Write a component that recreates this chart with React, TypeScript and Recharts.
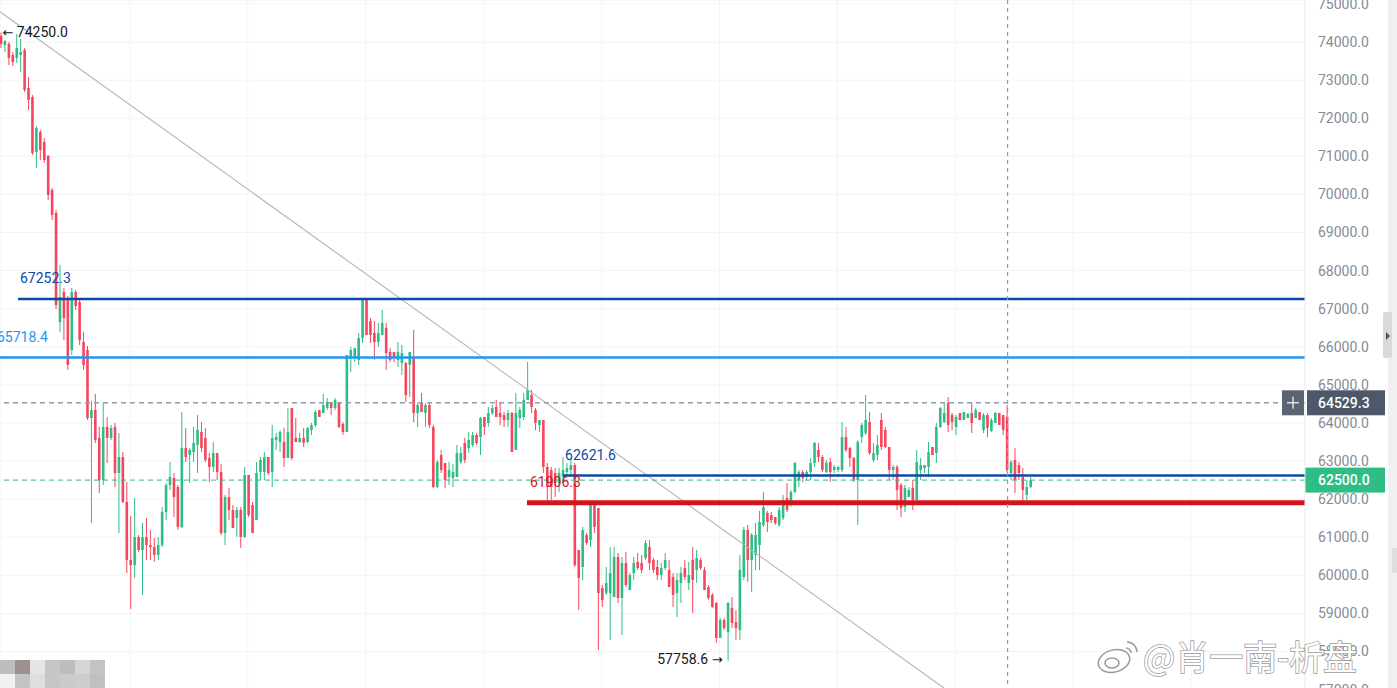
import React from 'react';
import {
  ComposedChart, Bar, XAxis, YAxis, CartesianGrid, ReferenceLine, ReferenceDot,
} from 'recharts';

// 263 candles, oldest first
const OPEN = [
  74157, 73921, 73947, 73659, 73580, 73659, 73790, 72793, 72556, 71112,
  71637, 71374, 71007, 70115, 69511, 66650, 67437, 67227, 65915, 67437,
  67175, 66125, 65915, 64130, 64340, 63605, 62502, 63894, 63605, 63894,
  62686, 63106, 61925, 60402, 60271, 61006, 60665, 61006, 60796, 60743,
  60534, 60796, 61662, 62371, 62555, 62318, 61269, 63342, 63159, 63237,
  63421, 63762, 63605, 63080, 62844, 63211, 62712, 61111, 62056, 61715,
  61505, 61715, 61006, 62634, 61846, 61452, 62712, 62712, 63106, 62712,
  63552, 63500, 63500, 63080, 64392, 63605, 63500, 63605, 63500, 63815,
  63946, 64340, 64261, 64392, 64550, 64392, 64550, 63973, 63762, 65705,
  65705, 65652, 66230, 67227, 66676, 66361, 66125, 66309, 66493, 65862,
  65862, 65652, 65574, 65574, 65521, 65705, 64261, 64524, 64261, 64471,
  63894, 62318, 63159, 62949, 62581, 62555, 62581, 62975, 63474, 63342,
  63421, 63684, 63631, 64156, 63999, 64261, 64419, 64261, 64209, 64077,
  64261, 63290, 64130, 64156, 64602, 64734, 64340, 63946, 64077, 62844,
  62765, 62686, 62424, 62581, 62712, 62765, 62896, 60665, 60219, 61059,
  60927, 61846, 61768, 59667, 59537, 59537, 59431, 60481, 59405, 60324,
  59615, 60061, 60350, 60324, 60455, 60743, 60402, 60219, 60009, 60192,
  60140, 59956, 59537, 59799, 60192, 59799, 60402, 60140, 60402, 60140,
  59694, 59484, 59274, 58355, 58827, 58512, 59143, 58775, 58565, 59956,
  61190, 60402, 60534, 60796, 61321, 61636, 61584, 61531, 61321, 61505,
  62030, 61899, 62187, 62502, 62712, 62581, 62712, 62949, 63290, 63106,
  62712, 62975, 62765, 62765, 62765, 63631, 63342, 63080, 62502, 63631,
  63736, 64024, 63027, 63159, 64077, 63815, 63369, 62765, 62844, 62371,
  61794, 62056, 62293, 61977, 62765, 62817, 62844, 63369, 63211, 63894,
  64024, 64524, 64209, 63894, 64261, 64077, 64130, 64261, 64130, 64287,
  63815, 64209, 63789, 63999, 64261, 64209, 64156, 62686, 63027, 62896,
  62581, 62109, 62318,
];

const HIGH = [
  74250, 74052, 74000, 73737, 74210, 74079, 73842, 73081, 72609, 71795,
  71690, 71480, 71034, 70167, 69590, 68146, 67542, 67332, 67542, 67490,
  67227, 66387, 66020, 64576, 64760, 63894, 64524, 64156, 63946, 63999,
  63736, 63237, 62450, 61557, 62030, 61059, 61374, 61505, 61190, 60980,
  61006, 61794, 62424, 62975, 62686, 62371, 64287, 63867, 63342, 63894,
  64209, 64024, 63867, 63211, 63500, 63211, 62923, 62109, 62293, 61846,
  61794, 61794, 62844, 62634, 61925, 62975, 63106, 63237, 63106, 63946,
  63736, 63815, 63867, 64392, 64392, 64130, 63736, 63867, 63894, 63999,
  64340, 64340, 64760, 64655, 64550, 64655, 64550, 64024, 65784, 65994,
  65967, 66361, 67252.3, 67240, 66755, 66676, 66624, 66965, 66624, 65967,
  65862, 66125, 66046, 65600, 65862, 66440, 64524, 64786, 64524, 64524,
  63946, 63027, 63290, 62949, 62975, 62923, 63421, 63369, 63605, 63762,
  63762, 63736, 64156, 64156, 64419, 64471, 64602, 64550, 64287, 64340,
  64287, 64786, 64419, 64786, 65600, 64865, 64392, 64077, 64077, 62949,
  62844, 62817, 62817, 63106, 62949, 63080, 62949, 60665, 61269, 61111,
  61899, 61899, 61768, 59746, 60219, 60743, 60743, 60586, 60481, 60612,
  60061, 60481, 60586, 60534, 60927, 60927, 60455, 60402, 60324, 60586,
  60402, 60061, 60061, 60219, 60402, 60350, 60743, 60665, 60455, 60219,
  59746, 59537, 59300, 58880, 58880, 59300, 59431, 59090, 60534, 61269,
  61321, 61111, 61374, 61689, 62187, 61689, 61662, 61531, 61794, 62109,
  62424, 62240, 62975, 62765, 62765, 62765, 63080, 63500, 63474, 63159,
  63027, 63080, 62896, 62870, 64024, 63894, 63369, 63106, 63552, 63999,
  64734, 64287, 63474, 63684, 64261, 63894, 63369, 62896, 62896, 62424,
  62371, 62318, 62502, 63290, 63080, 62896, 63500, 63369, 63999, 64419,
  64524, 64681, 64261, 64209, 64261, 64287, 64261, 64524, 64392, 64287,
  64261, 64261, 64130, 64287, 64261, 64209, 64471, 63027, 63342, 62975,
  62817, 62502, 62581,
];

const LOW = [
  73842, 73737, 73396, 73370, 73448, 73212, 72687, 72215, 71034, 70692,
  70902, 70824, 69852, 69327, 66991, 66387, 66177, 65390, 65784, 66965,
  66046, 65390, 64077, 61374, 63474, 62161, 62371, 62949, 63552, 62318,
  61111, 61899, 60061, 59117, 59930, 60612, 59484, 60402, 60402, 60350,
  60402, 60743, 61452, 62240, 61531, 61190, 61242, 62975, 62424, 62975,
  62686, 63237, 62975, 62450, 62712, 62502, 61059, 60796, 61452, 61242,
  61006, 60717, 60980, 61531, 61111, 61452, 62502, 62502, 62634, 62318,
  63290, 63237, 62844, 63080, 63027, 63500, 63474, 63369, 63474, 63684,
  63894, 64156, 64261, 64340, 64209, 64340, 63867, 63684, 63762, 65337,
  65600, 65521, 66099, 66309, 66099, 65652, 65994, 66309, 65390, 65600,
  65600, 65469, 65259, 64550, 64681, 64024, 63894, 64287, 63894, 63867,
  62293, 62293, 62686, 62293, 62371, 62318, 62581, 62923, 62949, 63211,
  63369, 63421, 63159, 63684, 63894, 64209, 64156, 63946, 63894, 63894,
  63237, 63290, 63867, 64077, 64602, 64261, 63815, 63762, 62686, 61925,
  61977, 62056, 62187, 62424, 62581, 62581, 60219, 59090, 59877, 60796,
  60743, 61111, 58040, 59169, 59484, 58302, 59431, 59274, 58433, 59694,
  59615, 59877, 60140, 60061, 60402, 60140, 60061, 59877, 59877, 60140,
  59694, 59169, 58906, 59274, 59877, 59615, 59012, 59799, 60140, 59615,
  59352, 59143, 58226, 58355, 58565, 57758.6, 58617, 58302, 58302, 59877,
  59825, 59563, 60140, 60140, 61269, 61137, 61374, 61321, 61269, 61452,
  61662, 61794, 62161, 62318, 62450, 62502, 62502, 62844, 62975, 62712,
  62686, 62450, 62686, 62712, 62712, 63237, 62844, 62450, 61321, 63474,
  63684, 63159, 62975, 63027, 63290, 63342, 62502, 62502, 61715, 61531,
  61662, 62056, 61715, 61977, 62502, 62686, 62581, 63159, 62949, 63867,
  63999, 63762, 63815, 63684, 64077, 64077, 64130, 63736, 64130, 64077,
  63736, 63631, 63762, 63999, 63946, 63684, 62712, 62502, 62161, 62502,
  61846, 61977, 62293,
];

const CLOSE = [
  73947, 74026, 73580, 73474, 73842, 73737, 72740, 72477, 71086, 71742,
  71165, 70902, 69984, 69459, 67096, 67306, 66755, 65521, 67437, 67070,
  66177, 65521, 64130, 64340, 63552, 62502, 63894, 63605, 63867, 62686,
  63106, 61925, 60402, 60271, 61006, 60665, 61006, 60796, 60743, 60534,
  60796, 61662, 62371, 62581, 62056, 61269, 63342, 63106, 63290, 63474,
  63815, 63342, 63027, 62844, 63211, 62712, 61111, 62056, 61715, 61242,
  61715, 61006, 62634, 61584, 61111, 62686, 63027, 63106, 62686, 63605,
  63631, 63762, 63080, 63762, 63080, 63500, 63605, 63474, 63867, 63946,
  64287, 64156, 64471, 64550, 64392, 64602, 63894, 63762, 65784, 65915,
  65967, 66230, 67227, 66309, 66309, 66125, 66361, 66624, 65836, 65652,
  65705, 65862, 65836, 64734, 65862, 64261, 64471, 64287, 64471, 63946,
  62318, 62975, 62765, 62502, 62765, 62712, 63211, 63211, 63027, 63552,
  63684, 63474, 64130, 63894, 64261, 64392, 64156, 64156, 64077, 64261,
  63237, 64261, 64340, 64602, 64865, 64419, 63999, 64077, 62844, 62318,
  62318, 62424, 62686, 62765, 62817, 62896, 60271, 59930, 61190, 60849,
  61846, 61269, 59537, 59352, 59799, 60061, 60481, 59405, 60324, 59746,
  60009, 60324, 60192, 60140, 60849, 60324, 60140, 60009, 60192, 60402,
  59694, 59484, 59877, 60061, 59956, 60009, 59877, 60455, 60192, 59615,
  59405, 59169, 58355, 58827, 58617, 59274, 58749, 58617, 60140, 61190,
  60402, 61059, 61059, 61400, 61794, 61400, 61452, 61374, 61715, 61977,
  61715, 62187, 62949, 62712, 62555, 62712, 62949, 63474, 63106, 62765,
  62949, 62712, 62844, 62844, 63631, 63290, 63080, 62502, 63500, 63946,
  64077, 63211, 63211, 63421, 63369, 63369, 62765, 62844, 62240, 61768,
  62293, 62240, 61977, 62975, 62896, 62896, 63237, 63159, 63894, 64392,
  64261, 63946, 64024, 64156, 64077, 64287, 64235, 63999, 64340, 64077,
  64209, 63867, 64077, 64261, 63946, 63815, 62765, 62975, 62502, 62686,
  62240, 62318, 62500,
];

const PRICE_TICKS = [
  57000, 58000, 59000, 60000, 61000, 62000, 63000, 64000, 65000,
  66000, 67000, 68000, 69000, 70000, 71000, 72000, 73000, 74000, 75000,
];
const GRID_X = [32.7, 62.7, 92.7, 122.7, 152.7, 182.7, 212.7, 242.7, 272.7, 302.7];

const X_DOMAIN = [-0.38, 331.68];
const Y_DOMAIN = [56727.5, 75102.5];

const RES_HIGH = 67252.3;
const RES_HIGH_FROM = 4.2;
const RES_MID = 65718.4;
const CROSS_PRICE = 64529.3;
const CROSS_INDEX = 256;
const LAST_PRICE = 62500.0;
const SUP_UPPER = 62621.6;
const SUP_UPPER_FROM = 142.9;
const SUP_LOWER = 61906.3;
const SUP_LOWER_FROM = 133.7;
const PEAK = { i: 0, price: 74250.0 };
const TROUGH = { i: 185, price: 57758.6 };
const TREND = [{ x: -0.38, y: 74795 }, { x: 243.7, y: 56754 }];

const MOSAIC = [
  ['#bdbdbd', '#9e908c', '#e5e5e5', '#c6c6c6', '#bdbdbd', '#d6d6d6', '#c3c3c3'],
  ['#f1f1f1', '#c4c4c4', '#dedede', '#c6c6c6', '#cbcbcb', '#cdcdcd', '#c0c0c0'],
];

const UP = '#2ebd85';
const DOWN = '#f6465d';
const DARK_BLUE = '#0b4aa8';
const LIGHT_BLUE = '#2196f3';
const RED_LINE = '#d2141f';
const FONT = 'Roboto, "Noto Sans", sans-serif';
const ARROW_FONT = '"DejaVu Sans", sans-serif';

const rows = OPEN.map((o, i) => ({ i, o, h: HIGH[i], l: LOW[i], c: CLOSE[i] }));

function Candle(props: any) {
  const { x, y, width, height, payload } = props;
  if (!payload || x == null) return null;
  const { o, h, l, c } = payload;
  const top = Math.min(y, y + height);
  const bot = Math.max(y, y + height);
  const span = h - l || 1;
  const py = (p: number) => top + ((h - p) / span) * (bot - top);
  const color = c >= o ? UP : DOWN;
  const cx = x + width / 2;
  const bTop = py(Math.max(o, c));
  const bBot = py(Math.min(o, c));
  return (
    <g>
      <line x1={cx} x2={cx} y1={top} y2={bot} stroke={color} strokeWidth={1} />
      <rect x={cx - 1.3} y={bTop} width={2.6} height={Math.max(1, bBot - bTop)} fill={color} />
    </g>
  );
}

const textAt = (text: string, color: string, dx: number, dy: number) =>
  (props: any) => {
    const vb = props.viewBox || { x: 0, y: 0 };
    return (
      <text x={vb.x + dx} y={vb.y + dy} fill={color} fontSize={14} fontFamily={FONT}>
        {text}
      </text>
    );
  };

// arrow + value, arrow on the left or right of the number
const arrowText = (value: string, arrowLeft: boolean, dx: number, dy: number) =>
  (props: any) => {
    const vb = props.viewBox || { x: 0, y: 0 };
    return (
      <text
        x={vb.x + dx}
        y={vb.y + dy}
        fill="#131722"
        fontSize={14}
        fontFamily={FONT}
        textAnchor={arrowLeft ? 'start' : 'end'}
      >
        {arrowLeft ? <tspan fontFamily={ARROW_FONT} fontSize={13}>←</tspan> : null}
        {arrowLeft ? ` ${value}` : `${value} `}
        {arrowLeft ? null : <tspan fontFamily={ARROW_FONT} fontSize={13}>→</tspan>}
      </text>
    );
  };

const crossBox = (props: any) => {
  const vb = props.viewBox || { x: 0, y: 0, width: 0 };
  const right = vb.x + vb.width;
  return (
    <g>
      <rect x={right - 23} y={vb.y - 12.5} width={22} height={25} fill="#5a6474" />
      <line x1={right - 18} x2={right - 6} y1={vb.y} y2={vb.y} stroke="#fff" strokeWidth={1.2} />
      <line x1={right - 12} x2={right - 12} y1={vb.y - 6} y2={vb.y + 6} stroke="#fff" strokeWidth={1.2} />
      <rect x={right + 2} y={vb.y - 12.5} width={78} height={25} fill="#4e5869" />
      <text x={right + 13} y={vb.y + 5} fill="#fff" fontSize={14} fontFamily={FONT} fontWeight={500}>
        {CROSS_PRICE.toFixed(1)}
      </text>
    </g>
  );
};

const lastBox = (props: any) => {
  const vb = props.viewBox || { x: 0, y: 0, width: 0 };
  const right = vb.x + vb.width;
  return (
    <g>
      <rect x={right} y={vb.y - 12.5} width={80} height={25} fill={UP} />
      <text x={right + 13} y={vb.y + 5} fill="#fff" fontSize={14} fontFamily={FONT} fontWeight={500}>
        {LAST_PRICE.toFixed(1)}
      </text>
    </g>
  );
};

export default function App() {
  return (
    <div style={{ position: 'fixed', left: 0, top: 0, width: 1397, height: 688, overflow: 'hidden', background: '#fff' }}>
      <ComposedChart width={1397} height={700} data={rows} margin={{ top: 0, right: 0, bottom: 0, left: 0 }}>
        <CartesianGrid stroke="#f3f4f6" />
        <XAxis dataKey="i" type="number" domain={X_DOMAIN} ticks={GRID_X} hide allowDataOverflow />
        <YAxis
          orientation="right"
          domain={Y_DOMAIN}
          ticks={PRICE_TICKS}
          interval={0}
          width={92}
          allowDataOverflow
          tickLine={false}
          tickSize={0}
          tickMargin={13}
          axisLine={{ stroke: '#efefef' }}
          tick={{ fill: '#858c99', fontSize: 14, fontFamily: FONT, textAnchor: 'start' }}
          tickFormatter={(v: number) => v.toFixed(1)}
        />
        <ReferenceLine
          segment={TREND}
          stroke="#b4b4b4"
          strokeWidth={1.1}
          ifOverflow="visible"
        />
        <Bar
          dataKey={(d: any) => [d.l, d.h]}
          barSize={3}
          shape={<Candle />}
          isAnimationActive={false}
        />
        <ReferenceLine
          segment={[{ x: RES_HIGH_FROM, y: RES_HIGH }, { x: X_DOMAIN[1], y: RES_HIGH }]}
          stroke={DARK_BLUE}
          strokeWidth={2.4}
          ifOverflow="visible"
          label={textAt(RES_HIGH.toFixed(1), DARK_BLUE, 2, -16)}
        />
        <ReferenceLine
          y={RES_MID}
          stroke={LIGHT_BLUE}
          strokeWidth={2.4}
          label={textAt(RES_MID.toFixed(1), LIGHT_BLUE, -3, -15)}
        />
        <ReferenceLine
          y={CROSS_PRICE}
          stroke="#979ca6"
          strokeWidth={1.5}
          strokeDasharray="5 4"
          label={crossBox}
        />
        <ReferenceLine
          y={LAST_PRICE}
          stroke={UP}
          strokeWidth={1}
          strokeDasharray="5 4"
          label={lastBox}
        />
        <ReferenceLine
          segment={[{ x: SUP_UPPER_FROM, y: SUP_UPPER }, { x: X_DOMAIN[1], y: SUP_UPPER }]}
          stroke={DARK_BLUE}
          strokeWidth={2.4}
          ifOverflow="visible"
          label={textAt(SUP_UPPER.toFixed(1), DARK_BLUE, 2, -15.5)}
        />
        <ReferenceLine
          segment={[{ x: SUP_LOWER_FROM, y: SUP_LOWER }, { x: X_DOMAIN[1], y: SUP_LOWER }]}
          stroke={RED_LINE}
          strokeWidth={5}
          ifOverflow="visible"
          label={textAt(SUP_LOWER.toFixed(1), RED_LINE, 3, -16)}
        />
        <ReferenceLine x={CROSS_INDEX} stroke="#979ca6" strokeWidth={1.2} strokeDasharray="4 4" />
        <ReferenceDot
          x={PEAK.i}
          y={PEAK.price}
          r={0}
          fill="none"
          stroke="none"
          label={arrowText(PEAK.price.toFixed(1), true, 1, 4.5)}
        />
        <ReferenceDot
          x={TROUGH.i}
          y={TROUGH.price}
          r={0}
          fill="none"
          stroke="none"
          label={arrowText(TROUGH.price.toFixed(1), false, -6, 3.5)}
        />
      </ComposedChart>
      <svg width={1397} height={688} style={{ position: 'absolute', left: 0, top: 0, pointerEvents: 'none' }}>
        {MOSAIC.map((row, r) =>
          row.map((col, k) => (
            <rect key={`${r}-${k}`} x={k * 15} y={660 + r * 14} width={15} height={14} fill={col} />
          )),
        )}
        <rect x={1388} y={0} width={9} height={688} fill="#f0f0f0" />
        <rect x={1383} y={312} width={9} height={46} rx={2} fill="#d9d9d9" />
        <path d="M1386,332 L1390,336 L1386,340 Z" fill="#555" />
        <rect x={1392} y={548} width={5} height={25} fill="#dedede" />
        <g stroke="#9a9a9a" strokeWidth={1.5} fill="#fff">
          <ellipse cx={1114} cy={661} rx={16} ry={11} transform="rotate(-15 1114 661)" />
          <ellipse cx={1112} cy={663} rx={7} ry={5} />
          <path d="M1127,642 a10,10 0 0 1 10,10" fill="none" />
          <path d="M1126,648 a5,5 0 0 1 5,5" fill="none" />
        </g>
        <text
          x={1143}
          y={670}
          fontSize={34}
          fontFamily='"Noto Sans CJK SC", sans-serif'
          fill="#fff"
          stroke="#9a9a9a"
          strokeWidth={1.5}
          style={{ paintOrder: 'stroke' }}
        >
          @肖一南-析盘
        </text>
      </svg>
    </div>
  );
}
